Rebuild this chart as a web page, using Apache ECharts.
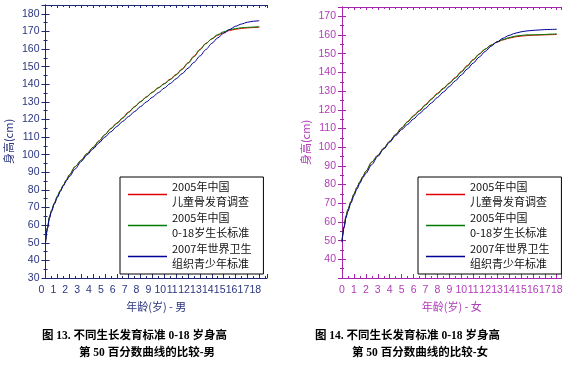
<!DOCTYPE html>
<html><head><meta charset="utf-8">
<script src="https://cdn.jsdelivr.net/npm/echarts@6/dist/echarts.min.js"></script>
<style>html,body{margin:0;padding:0;background:#fff}#c{width:572px;height:369px}</style>
</head><body><div id="c"></div>
<script>
const ages = [0, 0.17, 0.33, 0.5, 0.75, 1, 1.25, 1.5, 1.75, 2, 2.5, 3, 3.5, 4, 4.5, 5, 5.5, 6, 6.5, 7, 7.5, 8, 8.5, 9, 9.5, 10, 10.5, 11, 11.5, 12, 12.5, 13, 13.5, 14, 14.5, 15, 15.5, 16, 16.5, 17, 17.5, 18];
const seriesNames = ['2005年中国\n儿童骨发育调查', '2005年中国\n0-18岁生长标准', '2007年世界卫生\n组织青少年标准'];
const boysSurvey = [50.2,58.5,64.4,68.2,72.5,76.4,79.7,82.6,85.5, 88.4,93.2,96.9,100.7,104.2,107.8,111.4,114.9,117.9,121.0, 124.3,127.3,130.2,132.9,135.5,138.1,140.4,142.9,145.6,148.7, 152.2,156.0,159.8,163.2,165.7,167.8,169.3,170.5,171.2,171.7, 172.0,172.2,172.4];
const boysStd = [50.4,58.7,64.6,68.4,72.6,76.5,79.8,82.7,85.6, 88.5,93.3,96.8,100.6,104.1,107.7,111.3,114.7,117.7,120.7, 124.0,127.1,130.0,132.7,135.4,137.9,140.2,142.6,145.3,148.4, 151.9,155.6,159.5,163.0,165.9,168.2,169.8,171.0,171.6,172.1, 172.3,172.5,172.7];
const boysWho = [49.9,58.4,63.9,67.6,72.0,75.7,79.1,82.3,85.1, 87.5,91.9,96.1,99.9,103.3,106.7,110.0,113.0,116.0,118.9, 121.7,124.5,127.3,130.0,132.6,135.2,137.8,140.4,143.1,146.0, 149.1,152.4,156.0,159.7,163.2,166.3,169.0,171.1,172.9,174.2, 175.2,175.8,176.1];
const girlsSurvey = [49.6,57.2,63.0,66.7,70.9,74.9,78.4,81.4,84.3, 87.1,92.0,95.7,99.5,103.2,106.9,110.4,113.7,116.9,119.7, 122.8,125.9,128.8,131.6,134.4,137.3,140.5,143.7,146.9,149.9, 152.5,154.6,156.2,157.4,158.3,159.0,159.4,159.7,159.9,160.0, 160.1,160.2,160.3];
const girlsStd = [49.7,57.4,63.1,66.8,71.0,75.0,78.5,81.5,84.4, 87.2,92.1,95.6,99.4,103.1,106.7,110.2,113.5,116.6,119.4, 122.5,125.6,128.5,131.3,134.1,137.0,140.1,143.3,146.6,149.7, 152.4,154.6,156.3,157.6,158.6,159.4,159.8,160.1,160.1,160.2, 160.3,160.5,160.6];
const girlsWho = [49.1,57.1,62.1,65.7,70.1,74.0,77.5,80.7,83.7, 86.0,90.7,95.1,99.0,102.7,106.2,109.4,112.2,115.1,118.0, 120.8,123.7,126.6,129.5,132.5,135.5,138.6,141.8,145.0,148.2, 151.2,154.0,156.4,158.3,159.8,160.9,161.7,162.2,162.5,162.7, 162.9,163.0,163.1];
const xNames = ['年龄(岁) - 男', '年龄(岁) - 女'];
const yName = '身高(cm)';
const captions = [
  ['图 13. 不同生长发育标准 0-18 岁身高', '第 50 百分数曲线的比较-男'],
  ['图 14. 不同生长发育标准 0-18 岁身高', '第 50 百分数曲线的比较-女']
];

const colors = ['#e00000', '#007a00', '#00009a'];
const navy = '#1f2872', navyTxt = '#2b367f';
const mag = '#a624ae', magTxt = '#b13cb9';
const fontAx = 'Liberation Sans, Arial, sans-serif';
const fontCJK = 'Noto Sans CJK SC, sans-serif';

function pairs(vals){ return ages.map((a,i)=>[a, vals[i]]); }

function xAxes(grid, max, col, txtCol, name, shiftLeft){
  return [{
    gridIndex: grid, type: 'value', min: 0, max: max, interval: 1,
    axisLine: {lineStyle: {color: col, width: 1}},
    axisTick: {inside: true, length: 4, lineStyle: {color: col}},
    minorTick: {show: true, splitNumber: 2, length: 2, lineStyle: {color: col}},
    splitLine: {show: false},
    axisLabel: {color: txtCol, fontSize: 10.5, fontFamily: fontAx, margin: 7, showMaxLabel: false,
      padding: shiftLeft ? [0, 8, 0, 0] : 0},
    name: name, nameLocation: 'middle', nameGap: 19,
    nameTextStyle: {color: txtCol, fontSize: 11, fontFamily: fontCJK}
  }, {
    gridIndex: grid, type: 'value', min: 0, max: max, interval: 1, position: 'top',
    axisLine: {lineStyle: {color: col, width: 1}},
    axisTick: {inside: true, length: 3, lineStyle: {color: col}},
    minorTick: {show: true, splitNumber: 2, length: 2, lineStyle: {color: col}},
    splitLine: {show: false}, axisLabel: {show: false}
  }];
}
function yAxes(grid, max, col, txtCol, hideMin){
  return [{
    gridIndex: grid, type: 'value', min: 30, max: max, interval: 10,
    axisLine: {show: true, lineStyle: {color: col, width: 1}},
    axisTick: {show: true, inside: true, length: 4, lineStyle: {color: col}},
    minorTick: {show: true, splitNumber: 2, length: 2, lineStyle: {color: col}},
    splitLine: {show: false},
    axisLabel: {color: txtCol, fontSize: 10.5, fontFamily: fontAx, margin: 6, showMaxLabel: false, showMinLabel: !hideMin},
    name: yName, nameLocation: 'middle', nameGap: 31,
    nameTextStyle: {color: txtCol, fontSize: 11, fontFamily: fontCJK}
  }, {
    gridIndex: grid, type: 'value', min: 30, max: max, interval: 10, position: 'right',
    axisLine: {show: true, lineStyle: {color: col, width: 1}},
    axisTick: {show: true, inside: true, length: 4, lineStyle: {color: col}},
    minorTick: {show: true, splitNumber: 2, length: 2, lineStyle: {color: col}},
    splitLine: {show: false}, axisLabel: {show: false}
  }];
}
function lineSeries(name, vals, xi, yi, color){
  return {type: 'line', name: name, data: pairs(vals), xAxisIndex: xi, yAxisIndex: yi,
    showSymbol: false, symbol: 'none', smooth: 0.3, smoothMonotone: 'x',
    lineStyle: {color: color, width: 1}, itemStyle: {color: color}, z: 3};
}
function legend(left){
  return {left: left, top: 177, orient: 'vertical', icon: 'rect', itemWidth: 39, itemHeight: 1.6,
    itemGap: 0, padding: [2, 12, 2, 8], borderColor: '#000', borderWidth: 1, backgroundColor: '#fff',
    itemStyle: {borderWidth: 0},
    textStyle: {fontSize: 11, lineHeight: 15.5, color: '#111', fontFamily: fontCJK},
    selectedMode: false, data: seriesNames};
}
function caption(x, y, text){
  return {type: 'text', left: x, top: y, style: {text: text, fill: '#000', font: 'bold 11.5px "Liberation Serif", "Noto Sans CJK SC", serif'}};
}

const chart = echarts.init(document.getElementById('c'), null, {renderer: 'canvas'});
chart.setOption({
  backgroundColor: '#fff',
  animation: false,
  grid: [
    {left: 45.5, top: 5, width: 221.5, height: 273, outerBoundsMode: 'none'},
    {left: 342, top: 7, width: 219.5, height: 271, outerBoundsMode: 'none'}
  ],
  xAxis: [].concat(xAxes(0, 18.65, navy, navyTxt, xNames[0], true), xAxes(1, 18.4, mag, magTxt, xNames[1], false)),
  yAxis: [].concat(yAxes(0, 185, navy, navyTxt, false), yAxes(1, 175, mag, magTxt, true)),
  legend: [legend(120), legend(418)],
  series: [
    lineSeries(seriesNames[0], boysSurvey, 0, 0, colors[0]),
    lineSeries(seriesNames[1], boysStd, 0, 0, colors[1]),
    lineSeries(seriesNames[2], boysWho, 0, 0, colors[2]),
    lineSeries(seriesNames[0], girlsSurvey, 2, 2, colors[0]),
    lineSeries(seriesNames[1], girlsStd, 2, 2, colors[1]),
    lineSeries(seriesNames[2], girlsWho, 2, 2, colors[2])
  ],
  graphic: [
    caption(42, 330, captions[0][0]),
    caption(79, 347, captions[0][1]),
    caption(315, 330, captions[1][0]),
    caption(352, 347, captions[1][1])
  ]
});
</script></body></html>
